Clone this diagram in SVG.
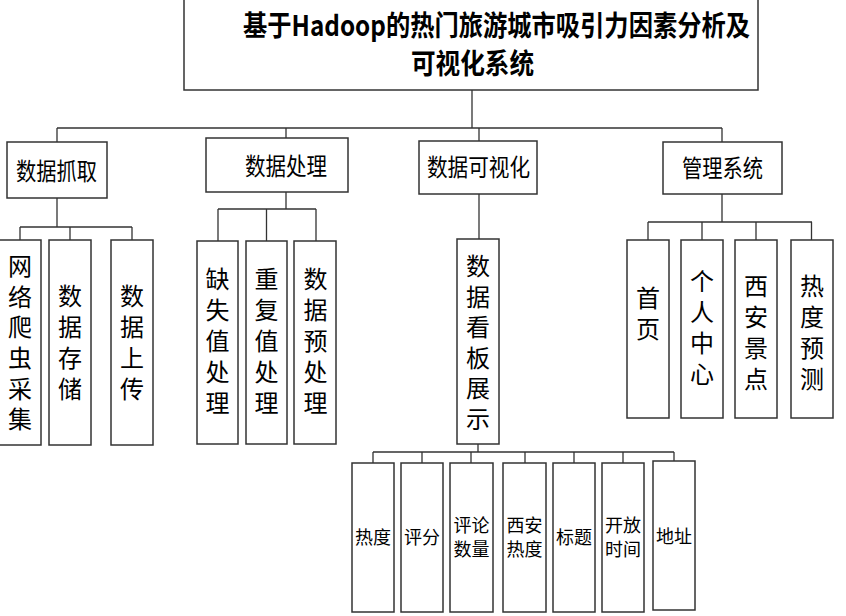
<svg xmlns="http://www.w3.org/2000/svg" width="846" height="616" viewBox="0 0 846 616">
<style>
.box{fill:#fff;stroke:#333;stroke-width:1.5}
.ln{fill:none;stroke:#333;stroke-width:1.3}
text{font-family:"Noto Sans CJK SC","Noto Sans CJK JP",sans-serif;fill:#000}
.title{font-size:28.5px;font-weight:bold}
.l1{font-size:24px}
.vt{font-size:24px;writing-mode:vertical-rl;text-orientation:upright;letter-spacing:7px}
.s{font-size:18px;text-anchor:middle}
</style>
<rect width="846" height="616" fill="#fff"/>
<g id="connectors">
<path class="ln" d="M472 90V128M57 128H722M57 128V142M286 128V138M479 128V141M722 128V142"/>
<path class="ln" d="M57 198V227M20 227H132M20 227V240M70 227V240M132 227V240"/>
<path class="ln" d="M286 192V209M218 209H316M218 209V241M266.5 209V241M316 209V241"/>
<path class="ln" d="M479 194V239"/>
<path class="ln" d="M722 194V222M648 222H812M648 222V240M702 222V240M756 222V240M811.5 222V240"/>
<path class="ln" d="M478 444V452M373 452H674M373 452V463M422 452V463M471 452V463M525 452V463M574 452V463M623 452V463M674 452V461"/>
</g>
<g id="title">
<rect class="box" x="184" y="-1" width="574" height="91"/>
<text class="title" x="243" y="36" textLength="507" lengthAdjust="spacingAndGlyphs">基于Hadoop的热门旅游城市吸引力因素分析及</text>
<text class="title" x="411" y="74" textLength="123" lengthAdjust="spacingAndGlyphs">可视化系统</text>
</g>
<g id="n-crawl">
<rect class="box" x="7" y="142" width="100" height="56"/>
<text class="l1" x="16" y="180" textLength="81" lengthAdjust="spacingAndGlyphs">数据抓取</text>
</g>
<g id="n-process">
<rect class="box" x="206" y="138" width="142" height="54"/>
<text class="l1" x="245" y="175" textLength="82" lengthAdjust="spacingAndGlyphs">数据处理</text>
</g>
<g id="n-vis">
<rect class="box" x="419" y="141" width="118" height="53"/>
<text class="l1" x="427" y="175.6" textLength="103" lengthAdjust="spacingAndGlyphs">数据可视化</text>
</g>
<g id="n-admin">
<rect class="box" x="663" y="142" width="119" height="52"/>
<text class="l1" x="682" y="177" textLength="81" lengthAdjust="spacingAndGlyphs">管理系统</text>
</g>
<g id="n-spider">
<rect class="box" x="-1" y="240" width="42" height="205"/>
<text class="vt" x="20" y="254" style="letter-spacing:6.6px">网络爬虫采集</text>
</g>
<g id="n-store">
<rect class="box" x="49" y="240" width="42" height="205"/>
<text class="vt" x="70" y="284">数据存储</text>
</g>
<g id="n-upload">
<rect class="box" x="111" y="240" width="42" height="205"/>
<text class="vt" x="132" y="284">数据上传</text>
</g>
<g id="n-missing">
<rect class="box" x="197" y="241" width="41" height="203"/>
<text class="vt" x="217.5" y="267">缺失值处理</text>
</g>
<g id="n-dup">
<rect class="box" x="246" y="241" width="41" height="203"/>
<text class="vt" x="266.5" y="267">重复值处理</text>
</g>
<g id="n-pre">
<rect class="box" x="294" y="241" width="42" height="203"/>
<text class="vt" x="315.5" y="267">数据预处理</text>
</g>
<g id="n-board">
<rect class="box" x="457" y="239" width="42" height="205"/>
<text class="vt" x="478" y="254" style="letter-spacing:6.5px">数据看板展示</text>
</g>
<g id="n-home">
<rect class="box" x="627" y="240" width="42" height="178"/>
<text class="vt" x="648" y="286">首页</text>
</g>
<g id="n-user">
<rect class="box" x="681" y="240" width="42" height="178"/>
<text class="vt" x="702" y="269">个人中心</text>
</g>
<g id="n-spots">
<rect class="box" x="735" y="240" width="42" height="178"/>
<text class="vt" x="756" y="274">西安景点</text>
</g>
<g id="n-predict">
<rect class="box" x="791" y="240" width="42" height="178"/>
<text class="vt" x="812" y="274">热度预测</text>
</g>
<g id="n-heat">
<rect class="box" x="352" y="463" width="42" height="149"/>
<text class="s" x="373" y="544">热度</text>
</g>
<g id="n-score">
<rect class="box" x="401" y="463" width="42" height="149"/>
<text class="s" x="422" y="544">评分</text>
</g>
<g id="n-comments">
<rect class="box" x="450" y="463" width="43" height="149"/>
<text class="s" x="471.5" y="532">评论</text>
<text class="s" x="471.5" y="556">数量</text>
</g>
<g id="n-xaheat">
<rect class="box" x="503" y="463" width="43" height="149"/>
<text class="s" x="524.5" y="532">西安</text>
<text class="s" x="524.5" y="556">热度</text>
</g>
<g id="n-titlefield">
<rect class="box" x="553" y="463" width="42" height="149"/>
<text class="s" x="574" y="544">标题</text>
</g>
<g id="n-hours">
<rect class="box" x="602" y="463" width="42" height="149"/>
<text class="s" x="623" y="532">开放</text>
<text class="s" x="623" y="556">时间</text>
</g>
<g id="n-address">
<rect class="box" x="653" y="461" width="42" height="149"/>
<text class="s" x="674" y="543">地址</text>
</g>
</svg>
